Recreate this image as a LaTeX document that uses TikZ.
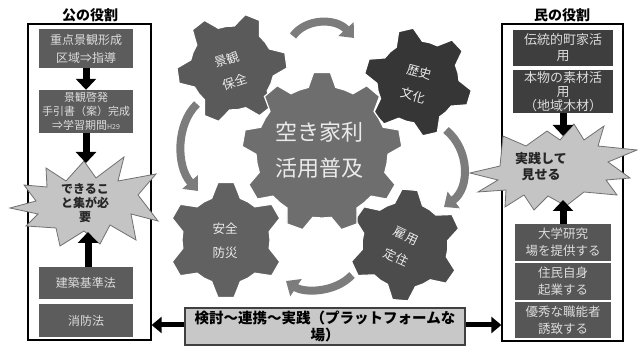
\documentclass[tikz,border=0pt]{standalone}
\usepackage{fontspec}
\newfontfamily\jp{Noto Sans CJK JP}
\usetikzlibrary{arrows.meta}
\definecolor{boxA}{HTML}{5C5C5C}
\definecolor{boxB}{HTML}{3E3E3E}
\definecolor{boxC}{HTML}{565656}
\definecolor{boxtext}{HTML}{DCDCDC}
\definecolor{burstfill}{HTML}{C4C4C4}
\definecolor{burstline}{HTML}{707070}
\definecolor{barfill}{HTML}{C8C8C8}
\definecolor{arcgray}{HTML}{7C7C7C}
\definecolor{gA}{HTML}{5A5A5A}
\definecolor{gB}{HTML}{363636}
\definecolor{gC}{HTML}{6E6E6E}
\definecolor{gD}{HTML}{616161}
\definecolor{gE}{HTML}{4C4C4C}
\newcommand{\gearshape}[9]{%
  \pgfmathsetmacro{\gstep}{360/#3}%
  \pgfmathtruncatemacro{\glast}{#3-1}%
  \filldraw[fill=#9, draw=white, line width=1.2pt]
    ({#1+#5*cos(#8-#7)},{#2-#5*sin(#8-#7)})
    \foreach \k in {0,...,\glast}{
      -- ({#1+#5*cos(#8+\k*\gstep-#7)},{#2-#5*sin(#8+\k*\gstep-#7)})
      -- ({#1+#4*cos(#8+\k*\gstep-#6)},{#2-#4*sin(#8+\k*\gstep-#6)})
      -- ({#1+#4*cos(#8+\k*\gstep+#6)},{#2-#4*sin(#8+\k*\gstep+#6)})
      -- ({#1+#5*cos(#8+\k*\gstep+#7)},{#2-#5*sin(#8+\k*\gstep+#7)})
      -- ({#1+#5*cos(#8+\k*\gstep+0.5*\gstep)},{#2-#5*sin(#8+\k*\gstep+0.5*\gstep)})
    } -- cycle;%
}
\begin{document}
\begin{tikzpicture}[x=1pt,y=-1pt,
  pbox/.style={rectangle, fill=#1, text=boxtext, align=center, inner sep=0pt,
    font=\jp\fontsize{12}{17}\selectfont},
  frame/.style={rectangle, draw=black, line width=1.3pt, inner sep=0pt},
  title/.style={font=\jp\bfseries\fontsize{14}{16}\selectfont, text=black},
  blk/.style={line width=7pt, -{Triangle[width=20pt,length=11pt]}},
  dbl/.style={line width=5pt, {Triangle[width=16pt,length=10pt]}-{Triangle[width=16pt,length=10pt]}},
  arcarrow/.style={draw=arcgray, line width=8pt, -{Triangle[width=20pt,length=12pt]}},
  burst/.style={fill=burstfill, draw=burstline, line width=0.8pt, line join=miter},
  bursttext/.style={align=center, text=black!85, font=\jp\bfseries\fontsize{12}{14}\selectfont},
  geartext/.style={align=center, text=white!92!black, font=\jp\fontsize{12.5}{24}\selectfont},
]
\useasboundingbox (0,0) rectangle (638,347);

% ---------- frames and titles ----------
\node[frame, minimum width=123pt, minimum height=316pt] (lf) at (89.5,182) {};
\node[frame, minimum width=121pt, minimum height=317pt] (rf) at (562.5,182.5) {};
\node[title] (lt) at (90,15) {公の役割};
\node[title] (rt) at (562,15) {民の役割};

% ---------- left boxes ----------
\node[pbox=boxA, minimum width=94pt, minimum height=39pt,
      font=\jp\fontsize{12}{18}\selectfont] (b1) at (86,48.5) {重点景観形成\\区域⇒指導};
\node[pbox=boxA, minimum width=94pt, minimum height=43pt,
      font=\jp\fontsize{11}{14}\selectfont] (b2) at (86,111.5)
      {景観啓発\\手引書（案）完成\\⇒学習期間{\fontsize{7}{7}\selectfont H29}};
\node[pbox=boxA, minimum width=94pt, minimum height=32pt] (b3) at (86,283) {建築基準法};
\node[pbox=boxA, minimum width=94pt, minimum height=33pt] (b4) at (86,320.5) {消防法};

% ---------- right boxes ----------
\node[pbox=boxB, minimum width=100pt, minimum height=36pt,
      font=\jp\fontsize{13}{16}\selectfont] (r1) at (563,48) {伝統的町家活\\用};
\node[pbox=boxB, minimum width=100pt, minimum height=43pt,
      font=\jp\fontsize{13}{14}\selectfont] (r2) at (563,91.5) {本物の素材活\\用\\（地域木材）};
\node[pbox=boxC, minimum width=96pt, minimum height=37pt,
      font=\jp\fontsize{12.5}{17}\selectfont] (r3) at (563,242.5) {大学研究\\場を提供する};
\node[pbox=boxC, minimum width=96pt, minimum height=37pt,
      font=\jp\fontsize{12.5}{17}\selectfont] (r4) at (563,281.5) {住民自身\\起業する};
\node[pbox=boxC, minimum width=96pt, minimum height=36pt,
      font=\jp\fontsize{12.5}{17}\selectfont] (r5) at (563,320) {優秀な職能者\\誘致する};

% ---------- starbursts ----------
\filldraw[burst] (10,208) -- (36,201) -- (24,185) -- (47,187) -- (46,168) -- (66,181)
  -- (84,161) -- (96,178) -- (124,157) -- (118,181) -- (156,174) -- (138,195)
  -- (158,221) -- (131,214) -- (136,240) -- (110,225) -- (100,244) -- (84,231)
  -- (60,246) -- (56,228) -- (26,226) -- (38,214) -- cycle;
\node[bursttext] (ls) at (85,203) {できるこ\\と集が必\\要};
\coordinate (lsTop) at (86,163);
\coordinate (lsBot) at (88,232);

\filldraw[burst] (470,173) -- (500,166) -- (503,136) -- (526,146) -- (547,131) -- (560,140)
  -- (574,124) -- (584,140) -- (604,126) -- (598,146) -- (637,150) -- (608,162)
  -- (630,178) -- (606,180) -- (617,195) -- (584,192) -- (566,206) -- (548,196)
  -- (534,210) -- (524,195) -- (505,207) -- (506,190) -- (478,192) -- (498,180) -- cycle;
\node[bursttext, font=\jp\bfseries\fontsize{13}{16}\selectfont] (rs) at (541,167) {実践して\\見せる};
\coordinate (rsTop) at (563,136);
\coordinate (rsBot) at (563,200);

% ---------- black arrows ----------
\draw[blk] (b1.south) -- (b2.north);
\draw[blk] (b2.south) -- (lsTop);
\draw[blk] (b3.north -| lsBot) -- (lsBot);
\draw[blk] (r2.south) -- (rsTop);
\draw[blk] (r3.north) -- (rsBot);

% ---------- gears ----------
\gearshape{232}{68}{6}{55}{42}{8}{19}{8}{gA}
\gearshape{418}{82}{6}{54}{41}{8}{19}{-17}{gB}
\gearshape{226}{240}{6}{58}{44}{8}{19}{30}{gD}
\gearshape{405}{245}{6}{56}{43}{8}{19}{25}{gE}
\gearshape{322}{152}{9}{80}{66}{6}{12}{90}{gC}
\node[geartext, rotate=18] (gtA) at (231,71) {景観\\保全};
\node[geartext, rotate=-15] (gtB) at (416,84) {歴史\\文化};
\node[geartext] (gtD) at (225,241) {安全\\防災};
\node[geartext, rotate=-25] (gtE) at (401,247) {雇用\\定住};
\node[align=center, text=white!92!black, font=\jp\fontsize{22}{36}\selectfont] (big) at (319,150) {空き家利\\活用普及};

% ---------- curved arrows ----------
\coordinate (t1) at (293,36);  \coordinate (t2) at (354,38);
\coordinate (c1) at (446,130); \coordinate (c2) at (444,207);
\coordinate (d1) at (352,275); \coordinate (d2) at (286,281);
\coordinate (e1) at (197,104); \coordinate (e2) at (198,191);
\draw[arcarrow] (t1) .. controls (306,18) and (336,18) .. (t2);
\draw[arcarrow] (c1) .. controls (470,150) and (470,188) .. (c2);
\draw[arcarrow] (d1) .. controls (335,293) and (304,293) .. (d2);
\draw[arcarrow] (e1) .. controls (176,124) and (176,166) .. (e2);

% ---------- bottom platform ----------
\coordinate (barL) at (lf.east |- 0,325);
\coordinate (barR) at (rf.west |- 0,325);
\draw[dbl] (barL) -- (barR);
\node[rectangle, fill=barfill, draw=black!75, line width=1.2pt, minimum width=280pt,
      minimum height=37pt, align=center, inner sep=0pt,
      font=\jp\bfseries\fontsize{14.5}{17}\selectfont] (bar) at (325,326.5)
      {検討～連携～実践（プラットフォームな\\場）};
\end{tikzpicture}
\end{document}
